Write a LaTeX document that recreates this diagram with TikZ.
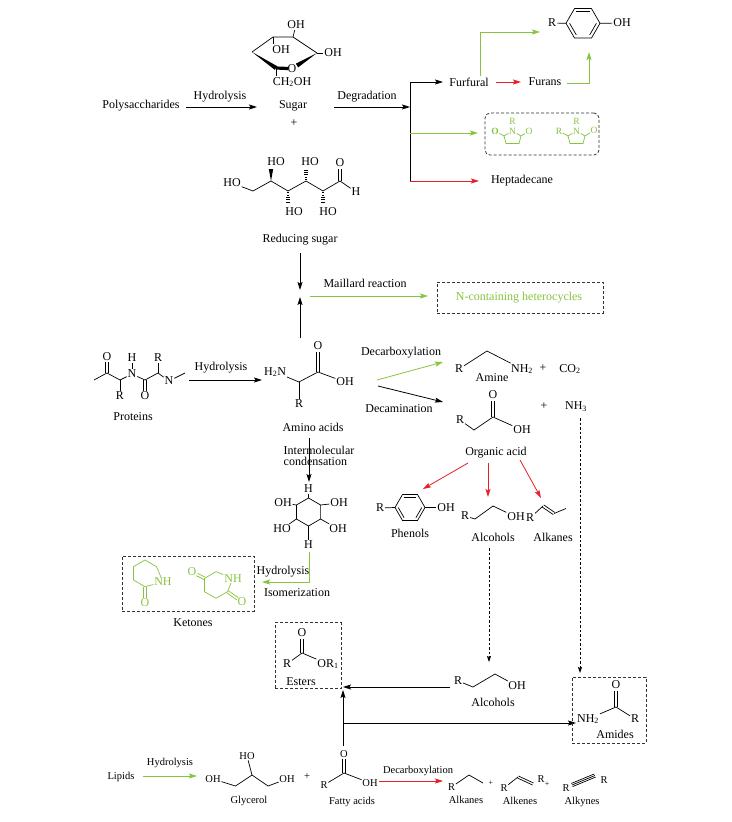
\documentclass[tikz,border=0pt]{standalone}
\usepackage{fontspec}
\setmainfont{Liberation Serif}
\usetikzlibrary{arrows.meta,calc}
\definecolor{ggreen}{RGB}{135,196,62}
\definecolor{rred}{RGB}{232,30,40}
\newcommand\dblbond[3][1.3pt]{%
  \draw[bond] ($(#2)!#1!90:(#3)$) -- ($(#3)!#1!-90:(#2)$);%
  \draw[bond] ($(#2)!#1!-90:(#3)$) -- ($(#3)!#1!90:(#2)$);}
\newcommand\wedgebond[3][2.2pt]{%
  \fill (#2) -- ($(#3)!#1!90:(#2)$) -- ($(#3)!#1!-90:(#2)$) -- cycle;}
\newcommand\hashbond[2]{%
  \foreach \hk in {0.12,0.32,0.52,0.72,0.92}{%
    \pgfmathsetlengthmacro\hw{0.8pt+1.6pt*\hk}%
    \coordinate (hbtmp) at ($(#1)!\hk!(#2)$);%
    \draw[line width=0.6pt] ($(hbtmp)!\hw!90:(#2)$) -- ($(hbtmp)!\hw!-90:(#2)$);%
  }}
\newcommand\benzring[3]{%
  \draw[bond] ($(#1)+(0:#2)$) -- ($(#1)+(60:#2)$) -- ($(#1)+(120:#2)$) -- ($(#1)+(180:#2)$) -- ($(#1)+(240:#2)$) -- ($(#1)+(300:#2)$) -- cycle;
  \draw[bond] ($(#1)+(240:#3)$) -- ($(#1)+(300:#3)$);
  \draw[bond] ($(#1)+(120:#3)$) -- ($(#1)+(180:#3)$);
  \draw[bond] ($(#1)+(0:#3)$) -- ($(#1)+(60:#3)$);}
\begin{document}
\begin{tikzpicture}[x=1pt,y=-1pt,
  lbl/.style={inner sep=0.5pt,font=\fontsize{12}{13}\selectfont},
  slbl/.style={inner sep=0.5pt,font=\fontsize{10.5}{12}\selectfont},
  atom/.style={inner sep=0.8pt,font=\fontsize{12}{13}\selectfont},
  satom/.style={inner sep=0.6pt,font=\fontsize{10.5}{12}\selectfont},
  tatom/.style={inner sep=0.5pt,font=\fontsize{9.5}{10}\selectfont,text=ggreen},
  bond/.style={line width=0.7pt},
  gbond/.style={line width=0.7pt,draw=ggreen},
  arr/.style={line width=0.8pt,-{Stealth[length=8pt,width=5pt,inset=1.5pt]}},
  garr/.style={arr,draw=ggreen},
  rarr/.style={arr,draw=rred},
  darr/.style={line width=0.8pt,dash pattern=on 2.5pt off 2pt,-{Stealth[length=6pt,width=4pt,inset=1pt]}},
  dbox/.style={draw=black!80,line width=0.8pt,dash pattern=on 3pt off 2pt,inner sep=0pt},
]
\useasboundingbox[fill=white] (0,0) rectangle (731,822);

% ===== Polysaccharides -> Sugar
\node[lbl] (poly) at (141,106) {Polysaccharides};
\coordinate (hyA) at (186,107); \coordinate (hyB) at (257,107);
\draw[arr] (hyA) -- (hyB);
\node[lbl] (hyL) at (220,97) {Hydrolysis};
\node[lbl] (sugar) at (293,106) {Sugar};
\node[lbl] (plusA) at (294,123) {+};
\coordinate (dgA) at (334,107); \coordinate (dgB) at (410,107);
\draw[arr] (dgA) -- (dgB);
\node[lbl] (dgL) at (367,97) {Degradation};

% sugar ring
\coordinate (sL) at (252,52); \coordinate (sTL) at (273,37); \coordinate (sTR) at (293,37);
\coordinate (sR) at (317,53); \coordinate (sBL) at (276,68); \coordinate (sOw) at (297,65.5);
\node[atom] (sO) at (292,69) {O};
\node[atom] (sOHt) at (296,25) {OH};
\node[atom] (sOHi) at (281,50) {OH};
\node[atom] (sOHr) at (333,53) {OH};
\node[atom] (sCH) at (292,82) {CH\textsubscript{2}OH};
\draw[bond] (sL) -- (sTL) -- (sTR) -- (sR);
\draw[bond] (sTR) -- (sOHt);
\coordinate (sTLd) at (273,44); \draw[bond] (sTL) -- (sTLd);
\draw[bond] (sR) -- (sOHr);
\coordinate (sBLd) at (276,76); \draw[bond] (sBL) -- (sBLd);
\wedgebond{sL}{sBL}
\coordinate (sOl) at (288,68.5); \draw[line width=3.2pt] (sBL) -- (sOl);
\wedgebond{sR}{sOw}

% branching line
\coordinate (vT) at (410,82); \coordinate (vM) at (410,133); \coordinate (vB) at (410,181);
\draw[line width=0.8pt] (vT) -- (vB);
\coordinate (fuA) at (443,82);
\draw[arr] (vT) -- (fuA);
\node[lbl] (furfural) at (469,82) {Furfural};
\coordinate (frA) at (496,82); \coordinate (frB) at (521,82);
\draw[rarr] (frA) -- (frB);
\node[lbl] (furans) at (545,82) {Furans};
\coordinate (gA) at (480,76); \coordinate (gB) at (540,32);
\draw[garr] (gA) |- (gB);
\coordinate (gC) at (567,83); \coordinate (gD) at (589,52);
\draw[garr] (gC) -| (gD);

% phenol top
\coordinate (ph1c) at (583,23.3);
\benzring{ph1c}{17}{13.4}
\node[atom] (ph1R) at (552,23) {R};
\node[atom] (ph1OH) at (622,23) {OH};
\coordinate (ph1l) at (566,23.3); \coordinate (ph1r) at (600,23.3);
\draw[bond] (ph1R) -- (ph1l); \draw[bond] (ph1r) -- (ph1OH);

% imide box
\coordinate (bxA) at (478,133);
\draw[garr] (vM) -- (bxA);
\node[dbox,rounded corners=5pt,minimum width=114pt,minimum height=42pt] (imbox) at (542,134) {};
\node[tatom,font=\fontsize{9.5}{10}\selectfont\bfseries] (b1O1) at (495,131) {O};
\node[tatom] (b1N) at (512.5,131) {N};
\node[tatom] (b1R) at (512.5,121) {R};
\node[tatom] (b1O2) at (529,131) {O};
\coordinate (b1a) at (504,136); \coordinate (b1b) at (506,143.5);
\coordinate (b1c) at (519,143.5); \coordinate (b1d) at (521,136);
\draw[gbond] (b1O1) -- (b1a) -- (b1N) -- (b1d) -- (b1O2);
\draw[gbond] (b1a) -- (b1b) -- (b1c) -- (b1d);
\node[tatom] (b2R) at (559,131) {R};
\node[tatom] (b2N) at (576.5,131) {N};
\node[tatom] (b2Rt) at (576.5,121) {R};
\node[tatom] (b2O) at (594,130) {O};
\coordinate (b2a) at (568,136); \coordinate (b2b) at (570,143.5);
\coordinate (b2c) at (583,143.5); \coordinate (b2d) at (585,136);
\draw[gbond] (b2R) -- (b2a) -- (b2N) -- (b2d) -- (b2O);
\draw[gbond] (b2a) -- (b2b) -- (b2c) -- (b2d);

% heptadecane
\coordinate (hpA) at (479,181);
\draw[rarr] (vB) -- (hpA);
\node[lbl] (hepta) at (522,181) {Heptadecane};

% ===== Reducing sugar
\node[atom] (rHO) at (232,183) {HO};
\coordinate (r1) at (253,191); \coordinate (r2) at (271,181); \coordinate (r3) at (288,191);
\coordinate (r4) at (306,181); \coordinate (r5) at (323,191); \coordinate (r6) at (340,181);
\node[atom] (rH) at (356,192) {H};
\node[atom] (rO) at (340,163) {O};
\node[atom] (rHO2) at (276,162) {HO};
\node[atom] (rHO3) at (294,212) {HO};
\node[atom] (rHO4) at (310,162) {HO};
\node[atom] (rHO5) at (328,212) {HO};
\draw[bond] (rHO) -- (r1) -- (r2) -- (r3) -- (r4) -- (r5) -- (r6) -- (rH);
\coordinate (rOb) at (340,169); \dblbond{r6}{rOb}
\coordinate (r2u) at (271,169); \wedgebond{r2}{r2u}
\coordinate (r3d) at (288,203); \hashbond{r3}{r3d}
\coordinate (r4u) at (306,169); \hashbond{r4}{r4u}
\coordinate (r5d) at (323,203); \hashbond{r5}{r5d}
\node[lbl] (rsug) at (300,240) {Reducing sugar};

% ===== Maillard
\coordinate (mdA) at (300,253); \coordinate (mdB) at (300,290);
\draw[arr] (mdA) -- (mdB);
\coordinate (muA) at (300,338); \coordinate (muB) at (300,297);
\draw[arr] (muA) -- (muB);
\coordinate (mgA) at (310,296); \coordinate (mgB) at (428,296);
\draw[garr] (mgA) -- (mgB);
\node[lbl] (mL) at (365,283) {Maillard reaction};
\node[dbox,minimum width=166pt,minimum height=31pt] (nbox) at (520,297.5) {};
\node[lbl,text=ggreen] (ntext) at (519,298) {N-containing heterocycles};

% ===== Proteins
\coordinate (p0) at (94,380); \coordinate (p1) at (107,373); \coordinate (p2) at (120,380);
\coordinate (p3) at (145,380); \coordinate (p4) at (158,373); \coordinate (p5) at (185,373);
\node[atom] (pO1) at (107,357) {O};
\node[atom] (pR1) at (120,396) {R};
\node[atom] (pN1) at (132,374) {N};
\node[atom] (pH) at (132,358) {H};
\node[atom] (pO2) at (145,396) {O};
\node[atom] (pR2) at (158,358) {R};
\node[atom] (pN2) at (169,381) {N};
\draw[bond] (p0) -- (p1) -- (p2) -- (pN1) -- (p3) -- (p4) -- (pN2) -- (p5);
\draw[bond] (p2) -- (pR1);
\draw[bond] (pH) -- (pN1);
\draw[bond] (p4) -- (pR2);
\coordinate (pO1b) at (107,362); \dblbond{p1}{pO1b}
\coordinate (pO2b) at (145,391); \dblbond{p3}{pO2b}
\node[lbl] (prot) at (133,417) {Proteins};
\coordinate (phA) at (189,380); \coordinate (phB) at (262,380);
\draw[arr] (phA) -- (phB);
\node[lbl] (phL) at (221,368) {Hydrolysis};

% amino acid
\node[atom] (aN) at (275,372) {H\textsubscript{2}N};
\coordinate (aC1) at (299,382); \coordinate (aC2) at (318,372);
\node[atom] (aR) at (299,404) {R};
\node[atom] (aO) at (318,346) {O};
\node[atom] (aOH) at (345,382) {OH};
\draw[bond] (aN) -- (aC1) -- (aC2) -- (aOH);
\draw[bond] (aC1) -- (aR);
\coordinate (aOb) at (318,352); \dblbond{aC2}{aOb}
\node[lbl] (aa) at (313,427) {Amino acids};

% ===== Intermolecular condensation
\node[lbl,align=left,anchor=west,font=\fontsize{12}{11}\selectfont] (imc) at (283,456) {Intermolecular\\condensation};
\coordinate (icA) at (309,438); \coordinate (icB) at (309,482);
\draw[arr] (icA) -- (icB);
\coordinate (cT) at (308.5,498); \coordinate (cUR) at (320.6,505); \coordinate (cLR) at (320.6,519);
\coordinate (cB) at (308.5,526); \coordinate (cLL) at (296.4,519); \coordinate (cUL) at (296.4,505);
\draw[bond] (cT) -- (cUR) -- (cLR) -- (cB) -- (cLL) -- (cUL) -- cycle;
\node[atom] (cH1) at (308.5,489) {H};
\node[atom] (cO1) at (283,503) {OH};
\node[atom] (cO2) at (339,503) {OH};
\node[atom] (cO3) at (282,529) {HO};
\node[atom] (cO4) at (338,529) {OH};
\node[atom] (cH2) at (308.5,545) {H};
\draw[bond] (cT) -- (cH1);
\draw[bond] (cUL) -- (cO1);
\draw[bond] (cUR) -- (cO2);
\draw[bond] (cLL) -- (cO3);
\draw[bond] (cLR) -- (cO4);
\draw[bond] (cB) -- (cH2);
\coordinate (ciA) at (309,552); \coordinate (ciB) at (262,582);
\draw[garr] (ciA) |- (ciB);
\node[lbl] (ciL1) at (283,572) {Hydrolysis};
\node[lbl] (ciL2) at (297,593) {Isomerization};

% ===== Ketones
\node[dbox,minimum width=132pt,minimum height=55pt] (kbox) at (188,583.5) {};
\node[lbl] (ket) at (193,623) {Ketones};
\begin{scope}[color=ggreen]
\coordinate (k1T) at (145,560); \coordinate (k1UR) at (156.5,566.7);
\coordinate (k1B) at (145,586.7); \coordinate (k1LL) at (133.5,580); \coordinate (k1UL) at (133.5,566.7);
\node[atom,text=ggreen] (k1NH) at (163,582) {NH};
\node[atom,text=ggreen] (k1O) at (145,603) {O};
\draw[bond] (k1LL) -- (k1UL) -- (k1T) -- (k1UR) -- (k1NH) -- (k1B) -- (k1LL);
\coordinate (k1Ob) at (145,597.5); \dblbond{k1B}{k1Ob}
\coordinate (k2T) at (216,571.7); \coordinate (k2LR) at (227.5,591.7);
\coordinate (k2B) at (216,598.3); \coordinate (k2LL) at (204.5,591.7); \coordinate (k2UL) at (204.5,578.3);
\node[atom,text=ggreen] (k2NH) at (233,578.3) {NH};
\node[atom,text=ggreen] (k2O1) at (192,572) {O};
\node[atom,text=ggreen] (k2O2) at (242,602) {O};
\draw[bond] (k2UL) -- (k2T) -- (k2NH) -- (k2LR) -- (k2B) -- (k2LL) -- (k2UL);
\coordinate (k2O1b) at (196.9,574.5); \dblbond{k2UL}{k2O1b}
\coordinate (k2O2b) at (237.5,598.8); \dblbond{k2LR}{k2O2b}
\end{scope}

% ===== Decarboxylation / Decamination
\node[lbl] (dcL) at (401,353) {Decarboxylation};
\coordinate (dcA) at (377,380); \coordinate (dcB) at (443,362);
\draw[garr] (dcA) -- (dcB);
\coordinate (dmA) at (378,386); \coordinate (dmB) at (443,402);
\draw[arr] (dmA) -- (dmB);
\node[lbl] (dmL) at (399,409) {Decamination};

% amine
\node[atom] (amR) at (459,369) {R};
\coordinate (am1) at (487,351);
\node[atom] (amN) at (522,369) {NH\textsubscript{2}};
\draw[bond] (amR) -- (am1) -- (amN);
\node[lbl] (amL) at (492,378) {Amine};
\node[lbl] (plB) at (543,368) {+};
\node[atom] (co2) at (570,369) {CO\textsubscript{2}};

% organic acid
\node[atom] (oR) at (460,420) {R};
\coordinate (o1) at (474,430); \coordinate (o2) at (493,417);
\node[atom] (oO) at (493,395) {O};
\node[atom] (oOH) at (522,430) {OH};
\draw[bond] (oR) -- (o1) -- (o2) -- (oOH);
\coordinate (oOb) at (493,401); \dblbond{o2}{oOb}
\node[lbl] (plC) at (544,406) {+};
\node[atom] (nh3) at (576,407) {NH\textsubscript{3}};
\node[lbl] (orga) at (496,453) {Organic acid};

% red arrows from organic acid
\coordinate (ra1) at (468,463); \coordinate (ra1e) at (423,489);
\draw[rarr] (ra1) -- (ra1e);
\coordinate (ra2) at (488,463); \coordinate (ra2e) at (488,497);
\draw[rarr] (ra2) -- (ra2e);
\coordinate (ra3) at (520,460); \coordinate (ra3e) at (541,498);
\draw[rarr] (ra3) -- (ra3e);

% phenols
\coordinate (ph2c) at (410,507.5);
\benzring{ph2c}{15}{11.8}
\node[atom] (ph2R) at (380,508) {R};
\node[atom] (ph2OH) at (446,507.5) {OH};
\coordinate (ph2l) at (395,507.5); \coordinate (ph2r) at (425,507.5);
\draw[bond] (ph2R) -- (ph2l); \draw[bond] (ph2r) -- (ph2OH);
\node[lbl] (phen) at (410,533) {Phenols};

% alcohols
\node[atom] (alR) at (465,516) {R};
\coordinate (al1) at (475,519); \coordinate (al2) at (493,506);
\node[atom] (alOH) at (516,517) {OH};
\draw[bond] (alR) -- (al1) -- (al2) -- (alOH);
\node[lbl] (alc) at (493,537) {Alcohols};

% alkene
\node[atom] (akR) at (530,518) {R};
\coordinate (ak1) at (543,506); \coordinate (ak2) at (554,513.5); \coordinate (ak3) at (566,508.5);
\draw[bond] (akR) -- (ak1);
\dblbond{ak1}{ak2}
\draw[bond] (ak2) -- (ak3);
\node[lbl] (akL) at (553,537) {Alkanes};

% dashed arrows
\coordinate (daA) at (489,548); \coordinate (daB) at (489,662);
\draw[darr] (daA) -- (daB);
\coordinate (dbA) at (580,418); \coordinate (dbB) at (580,673);
\draw[darr] (dbA) -- (dbB);

% ===== Esters
\node[dbox,minimum width=66pt,minimum height=66pt] (ebox) at (308,655.5) {};
\coordinate (eC) at (302,653);
\node[atom] (eO) at (302,633) {O};
\node[atom] (eR) at (287,664) {R};
\node[atom] (eOR) at (328,664) {OR\textsubscript{1}};
\draw[bond] (eR) -- (eC) -- (eOR);
\coordinate (eOb) at (302,639); \dblbond{eC}{eOb}
\node[lbl] (est) at (301,682) {Esters};

\coordinate (eaA) at (450,687); \coordinate (eaB) at (343,687);
\draw[arr] (eaA) -- (eaB);
\node[atom] (a2R) at (458,681) {R};
\coordinate (a21) at (473,687); \coordinate (a22) at (495,674);
\node[atom] (a2OH) at (517,686) {OH};
\draw[bond] (a2R) -- (a21) -- (a22) -- (a2OH);
\node[lbl] (alc2) at (493,702) {Alcohols};

\coordinate (fvA) at (343,746); \coordinate (fvB) at (343,690);
\draw[arr] (fvA) -- (fvB);
\coordinate (fhA) at (343,723); \coordinate (fhB) at (576,723);
\draw[arr] (fhA) -- (fhB);

% ===== Amides
\node[dbox,minimum width=74pt,minimum height=66pt] (abox) at (609,710) {};
\coordinate (amC) at (616,707);
\node[atom] (amO) at (616,685) {O};
\node[atom] (amN2) at (588,719) {NH\textsubscript{2}};
\node[atom] (amR2) at (635,719) {R};
\draw[bond] (amN2) -- (amC) -- (amR2);
\coordinate (amOb) at (616,691); \dblbond{amC}{amOb}
\node[lbl] (amd) at (615,734) {Amides};

% ===== Lipids
\node[slbl] (lip) at (121,777) {Lipids};
\coordinate (lhA) at (143,776); \coordinate (lhB) at (197,776);
\draw[garr] (lhA) -- (lhB);
\node[slbl] (lhL) at (170,763) {Hydrolysis};
\node[satom] (gOH1) at (213,779) {OH};
\coordinate (g1) at (235.5,786); \coordinate (g2) at (252,775); \coordinate (g3) at (268,786);
\node[satom] (gHO) at (247,756) {HO};
\node[satom] (gOH2) at (287,779) {OH};
\draw[bond] (gOH1) -- (g1) -- (g2) -- (g3) -- (gOH2);
\draw[bond] (g2) -- (gHO);
\node[slbl] (glyc) at (249,801) {Glycerol};
\node[slbl] (plD) at (307,777) {+};

\node[satom] (fR) at (324,785) {R};
\coordinate (fC) at (344,773);
\node[satom] (fO) at (344,754) {O};
\node[satom] (fOH) at (370,783) {OH};
\draw[bond] (fR) -- (fC) -- (fOH);
\coordinate (fOb) at (344,759); \dblbond{fC}{fOb}
\node[slbl] (fat) at (352,802) {Fatty acids};
\coordinate (fdA) at (379,781); \coordinate (fdB) at (443,781);
\draw[rarr] (fdA) -- (fdB);
\node[slbl] (fdL) at (418,771) {Decarboxylation};

\node[satom] (bkR) at (451.5,787) {R};
\coordinate (bk1) at (469,775); \coordinate (bk2) at (483,783);
\draw[bond] (bkR) -- (bk1) -- (bk2);
\node[slbl] (bkL) at (466,800) {Alkanes};
\node[inner sep=0pt,font=\fontsize{8}{9}\selectfont] (plE) at (491,783) {+};

\node[satom] (beR) at (504,788) {R};
\coordinate (be1) at (518,777); \coordinate (be2) at (533,784);
\draw[bond] (beR) -- (be1);
\dblbond[1.1pt]{be1}{be2}
\node[satom] (beR2) at (541,779) {R};
\node[inner sep=0pt,font=\fontsize{8}{9}\selectfont] (plF) at (547,784) {+};
\node[slbl] (beL) at (520,801) {Alkenes};

\node[satom] (byR1) at (566,788) {R};
\coordinate (by1) at (572,785); \coordinate (by2) at (595,775.5);
\node[satom] (byR2) at (604,780) {R};
\draw[bond] (by1) -- (by2);
\dblbond[1.7pt]{by1}{by2}
\node[slbl] (byL) at (582,802) {Alkynes};
\end{tikzpicture}
\end{document}
